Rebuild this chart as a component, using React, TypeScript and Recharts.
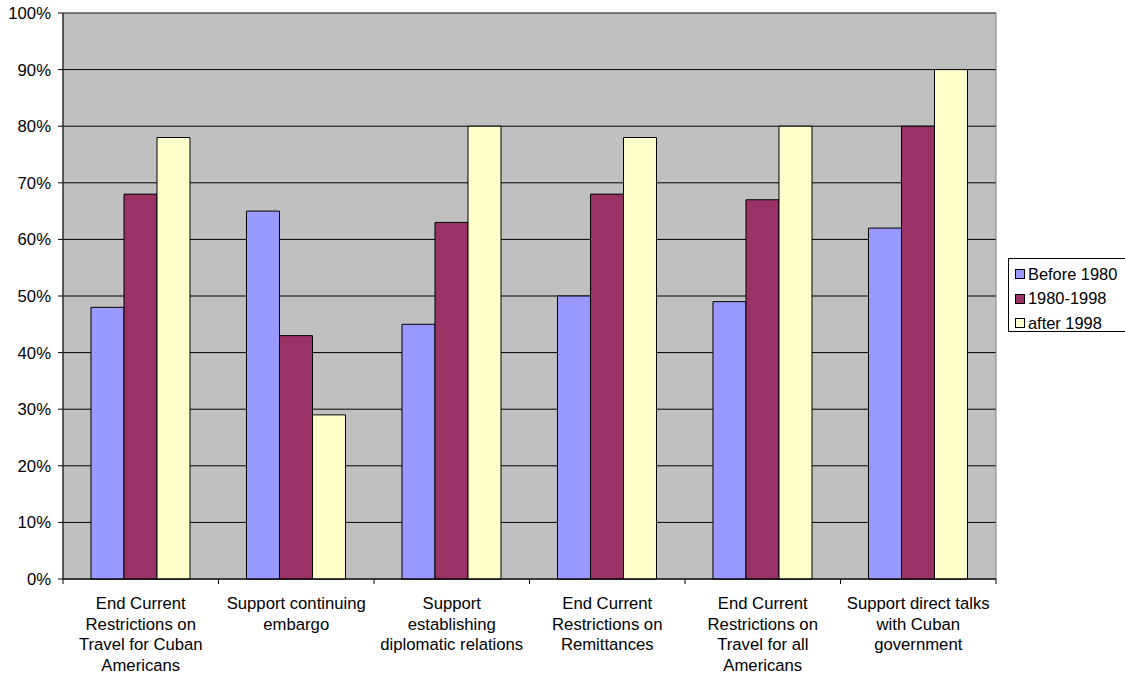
import React from "react";
import { BarChart, Bar, XAxis, YAxis, CartesianGrid, ReferenceArea } from "recharts";

const categories = [
  "End Current Restrictions on Travel for Cuban Americans",
  "Support continuing embargo",
  "Support establishing diplomatic relations",
  "End Current Restrictions on Remittances",
  "End Current Restrictions on Travel for all Americans",
  "Support direct talks with Cuban government",
];
const categoryLines = [
  ["End Current", "Restrictions on", "Travel for Cuban", "Americans"],
  ["Support continuing", "embargo"],
  ["Support", "establishing", "diplomatic relations"],
  ["End Current", "Restrictions on", "Remittances"],
  ["End Current", "Restrictions on", "Travel for all", "Americans"],
  ["Support direct talks", "with Cuban", "government"],
];
const before1980 = [48, 65, 45, 50, 49, 62];
const y1980to1998 = [68, 43, 63, 68, 67, 80];
const after1998 = [78, 29, 80, 78, 80, 90];
const yTicks = [0, 10, 20, 30, 40, 50, 60, 70, 80, 90, 100];

const series = [
  { key: "before", name: "Before 1980", color: "#9999FF" },
  { key: "mid", name: "1980-1998", color: "#993366" },
  { key: "after", name: "after 1998", color: "#FFFFCC" },
];

const data = categories.map((c, i) => ({
  name: c,
  idx: i,
  before: before1980[i],
  mid: y1980to1998[i],
  after: after1998[i],
}));

const W = 1125;
const H = 679;
const M = { top: 13, right: 129, bottom: 0, left: 0 };
const Y_W = 63;
const X_H = 100;
const PLOT_W = W - M.left - M.right - Y_W;
const BAND = PLOT_W / categories.length;
const FONT = "Arial, 'Liberation Sans', sans-serif";
const FS = 16.7;

const XTick = (props: any) => {
  const { x, y, index } = props;
  const lines = categoryLines[index] || [];
  const half = BAND / 2;
  return (
    <g>
      <line x1={x - half} x2={x - half} y1={y - 8} y2={y - 3} stroke="#000" />
      {index === categories.length - 1 && (
        <line x1={x + half} x2={x + half} y1={y - 8} y2={y - 3} stroke="#000" />
      )}
      <text textAnchor="middle" fontSize={FS} fontFamily={FONT} fill="#000">
        {lines.map((l: string, i: number) => (
          <tspan key={i} x={x} y={y + 22 + i * 20.5}>
            {l}
          </tspan>
        ))}
      </text>
    </g>
  );
};

const LegendBox = () => (
  <div
    style={{
      position: "absolute",
      left: 1008,
      top: 258,
      width: 130,
      height: 74,
      border: "1px solid #000",
      background: "#fff",
      padding: "3px 0 0 6px",
      fontFamily: FONT,
      fontSize: 16.4,
      boxSizing: "border-box",
    }}
  >
    {series.map((s) => (
      <div key={s.key} style={{ display: "flex", alignItems: "center", height: 24.5, whiteSpace: "nowrap" }}>
        <span
          style={{
            display: "inline-block",
            width: 10,
            height: 10,
            background: s.color,
            border: "1px solid #000",
            marginRight: 3,
            boxSizing: "border-box",
          }}
        />
        <span>{s.name}</span>
      </div>
    ))}
  </div>
);

export default function App() {
  return (
    <div
      style={{
        position: "absolute",
        left: 0,
        top: 0,
        width: W,
        height: H,
        background: "#fff",
        overflow: "hidden",
      }}
    >
      <BarChart width={W} height={H} data={data} margin={M} barCategoryGap="18%" barGap={0}>
        <CartesianGrid fill="#C0C0C0" stroke="#000" vertical={false} />
        <XAxis
          dataKey="name"
          height={X_H}
          axisLine={{ stroke: "#000" }}
          tickLine={false}
          interval={0}
          tick={<XTick />}
        />
        <YAxis
          width={Y_W}
          domain={[0, 100]}
          ticks={yTicks}
          interval={0}
          tickFormatter={(v: number) => `${v}%`}
          axisLine={{ stroke: "#000" }}
          tickLine={{ stroke: "#000" }}
          tickSize={5}
          tickMargin={7}
          tick={{ fontSize: FS, fontFamily: FONT, fill: "#000" }}
        />
        <ReferenceArea y1={0} y2={100} fill="none" stroke="#808080" ifOverflow="visible" />
        {series.map((s) => (
          <Bar
            key={s.key}
            dataKey={s.key}
            name={s.name}
            fill={s.color}
            stroke="#000"
            strokeWidth={1}
            isAnimationActive={false}
          />
        ))}
      </BarChart>
      <LegendBox />
    </div>
  );
}
